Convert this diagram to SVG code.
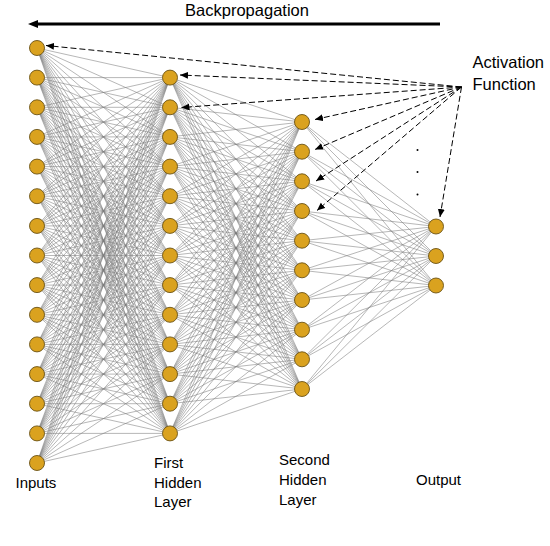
<svg xmlns="http://www.w3.org/2000/svg" width="550" height="546" viewBox="0 0 550 546">
<style>
.c{fill:none;stroke:#7a7a7a;stroke-width:0.55}
.node circle{fill:#DAA21F;stroke:#6b5215;stroke-width:0.9}
.lbl{font-family:"Liberation Sans",Arial,sans-serif;font-size:15px;fill:#000}
.big{font-size:16.5px}
.da{fill:none;stroke:#000;stroke-width:1;stroke-dasharray:6 3}
</style>
<defs>
<marker id="ah" markerUnits="userSpaceOnUse" markerWidth="9" markerHeight="8" refX="8" refY="3.5" orient="auto"><path d="M0 0L8 3.5L0 7z" fill="#000"/></marker>
<marker id="bh" markerUnits="userSpaceOnUse" markerWidth="11" markerHeight="9" refX="4" refY="4" orient="auto"><path d="M0 0L10 4L0 8z" fill="#000"/></marker>
</defs>
<rect width="550" height="546" fill="#fff"/>
<g id="connectors">
<path class="c" d="M37 48 170 77.6M37 48 170 107.3M37 48 170 136.9M37 48 170 166.6M37 48 170 196.2M37 48 170 225.9M37 48 170 255.5M37 48 170 285.1M37 48 170 314.8M37 48 170 344.4M37 48 170 374.1M37 48 170 403.7M37 48 170 433.4"/>
<path class="c" d="M37 77.6 170 77.6M37 77.6 170 107.3M37 77.6 170 136.9M37 77.6 170 166.6M37 77.6 170 196.2M37 77.6 170 225.9M37 77.6 170 255.5M37 77.6 170 285.1M37 77.6 170 314.8M37 77.6 170 344.4M37 77.6 170 374.1M37 77.6 170 403.7M37 77.6 170 433.4"/>
<path class="c" d="M37 107.3 170 77.6M37 107.3 170 107.3M37 107.3 170 136.9M37 107.3 170 166.6M37 107.3 170 196.2M37 107.3 170 225.9M37 107.3 170 255.5M37 107.3 170 285.1M37 107.3 170 314.8M37 107.3 170 344.4M37 107.3 170 374.1M37 107.3 170 403.7M37 107.3 170 433.4"/>
<path class="c" d="M37 136.9 170 77.6M37 136.9 170 107.3M37 136.9 170 136.9M37 136.9 170 166.6M37 136.9 170 196.2M37 136.9 170 225.9M37 136.9 170 255.5M37 136.9 170 285.1M37 136.9 170 314.8M37 136.9 170 344.4M37 136.9 170 374.1M37 136.9 170 403.7M37 136.9 170 433.4"/>
<path class="c" d="M37 166.6 170 77.6M37 166.6 170 107.3M37 166.6 170 136.9M37 166.6 170 166.6M37 166.6 170 196.2M37 166.6 170 225.9M37 166.6 170 255.5M37 166.6 170 285.1M37 166.6 170 314.8M37 166.6 170 344.4M37 166.6 170 374.1M37 166.6 170 403.7M37 166.6 170 433.4"/>
<path class="c" d="M37 196.2 170 77.6M37 196.2 170 107.3M37 196.2 170 136.9M37 196.2 170 166.6M37 196.2 170 196.2M37 196.2 170 225.9M37 196.2 170 255.5M37 196.2 170 285.1M37 196.2 170 314.8M37 196.2 170 344.4M37 196.2 170 374.1M37 196.2 170 403.7M37 196.2 170 433.4"/>
<path class="c" d="M37 225.9 170 77.6M37 225.9 170 107.3M37 225.9 170 136.9M37 225.9 170 166.6M37 225.9 170 196.2M37 225.9 170 225.9M37 225.9 170 255.5M37 225.9 170 285.1M37 225.9 170 314.8M37 225.9 170 344.4M37 225.9 170 374.1M37 225.9 170 403.7M37 225.9 170 433.4"/>
<path class="c" d="M37 255.5 170 77.6M37 255.5 170 107.3M37 255.5 170 136.9M37 255.5 170 166.6M37 255.5 170 196.2M37 255.5 170 225.9M37 255.5 170 255.5M37 255.5 170 285.1M37 255.5 170 314.8M37 255.5 170 344.4M37 255.5 170 374.1M37 255.5 170 403.7M37 255.5 170 433.4"/>
<path class="c" d="M37 285.1 170 77.6M37 285.1 170 107.3M37 285.1 170 136.9M37 285.1 170 166.6M37 285.1 170 196.2M37 285.1 170 225.9M37 285.1 170 255.5M37 285.1 170 285.1M37 285.1 170 314.8M37 285.1 170 344.4M37 285.1 170 374.1M37 285.1 170 403.7M37 285.1 170 433.4"/>
<path class="c" d="M37 314.8 170 77.6M37 314.8 170 107.3M37 314.8 170 136.9M37 314.8 170 166.6M37 314.8 170 196.2M37 314.8 170 225.9M37 314.8 170 255.5M37 314.8 170 285.1M37 314.8 170 314.8M37 314.8 170 344.4M37 314.8 170 374.1M37 314.8 170 403.7M37 314.8 170 433.4"/>
<path class="c" d="M37 344.4 170 77.6M37 344.4 170 107.3M37 344.4 170 136.9M37 344.4 170 166.6M37 344.4 170 196.2M37 344.4 170 225.9M37 344.4 170 255.5M37 344.4 170 285.1M37 344.4 170 314.8M37 344.4 170 344.4M37 344.4 170 374.1M37 344.4 170 403.7M37 344.4 170 433.4"/>
<path class="c" d="M37 374.1 170 77.6M37 374.1 170 107.3M37 374.1 170 136.9M37 374.1 170 166.6M37 374.1 170 196.2M37 374.1 170 225.9M37 374.1 170 255.5M37 374.1 170 285.1M37 374.1 170 314.8M37 374.1 170 344.4M37 374.1 170 374.1M37 374.1 170 403.7M37 374.1 170 433.4"/>
<path class="c" d="M37 403.7 170 77.6M37 403.7 170 107.3M37 403.7 170 136.9M37 403.7 170 166.6M37 403.7 170 196.2M37 403.7 170 225.9M37 403.7 170 255.5M37 403.7 170 285.1M37 403.7 170 314.8M37 403.7 170 344.4M37 403.7 170 374.1M37 403.7 170 403.7M37 403.7 170 433.4"/>
<path class="c" d="M37 433.4 170 77.6M37 433.4 170 107.3M37 433.4 170 136.9M37 433.4 170 166.6M37 433.4 170 196.2M37 433.4 170 225.9M37 433.4 170 255.5M37 433.4 170 285.1M37 433.4 170 314.8M37 433.4 170 344.4M37 433.4 170 374.1M37 433.4 170 403.7M37 433.4 170 433.4"/>
<path class="c" d="M37 463 170 77.6M37 463 170 107.3M37 463 170 136.9M37 463 170 166.6M37 463 170 196.2M37 463 170 225.9M37 463 170 255.5M37 463 170 285.1M37 463 170 314.8M37 463 170 344.4M37 463 170 374.1M37 463 170 403.7M37 463 170 433.4"/>

<path class="c" d="M170 77.6 302 122M170 77.6 302 151.7M170 77.6 302 181.3M170 77.6 302 211M170 77.6 302 240.7M170 77.6 302 270.3M170 77.6 302 300M170 77.6 302 329.7M170 77.6 302 359.3M170 77.6 302 389"/>
<path class="c" d="M170 107.3 302 122M170 107.3 302 151.7M170 107.3 302 181.3M170 107.3 302 211M170 107.3 302 240.7M170 107.3 302 270.3M170 107.3 302 300M170 107.3 302 329.7M170 107.3 302 359.3M170 107.3 302 389"/>
<path class="c" d="M170 136.9 302 122M170 136.9 302 151.7M170 136.9 302 181.3M170 136.9 302 211M170 136.9 302 240.7M170 136.9 302 270.3M170 136.9 302 300M170 136.9 302 329.7M170 136.9 302 359.3M170 136.9 302 389"/>
<path class="c" d="M170 166.6 302 122M170 166.6 302 151.7M170 166.6 302 181.3M170 166.6 302 211M170 166.6 302 240.7M170 166.6 302 270.3M170 166.6 302 300M170 166.6 302 329.7M170 166.6 302 359.3M170 166.6 302 389"/>
<path class="c" d="M170 196.2 302 122M170 196.2 302 151.7M170 196.2 302 181.3M170 196.2 302 211M170 196.2 302 240.7M170 196.2 302 270.3M170 196.2 302 300M170 196.2 302 329.7M170 196.2 302 359.3M170 196.2 302 389"/>
<path class="c" d="M170 225.9 302 122M170 225.9 302 151.7M170 225.9 302 181.3M170 225.9 302 211M170 225.9 302 240.7M170 225.9 302 270.3M170 225.9 302 300M170 225.9 302 329.7M170 225.9 302 359.3M170 225.9 302 389"/>
<path class="c" d="M170 255.5 302 122M170 255.5 302 151.7M170 255.5 302 181.3M170 255.5 302 211M170 255.5 302 240.7M170 255.5 302 270.3M170 255.5 302 300M170 255.5 302 329.7M170 255.5 302 359.3M170 255.5 302 389"/>
<path class="c" d="M170 285.1 302 122M170 285.1 302 151.7M170 285.1 302 181.3M170 285.1 302 211M170 285.1 302 240.7M170 285.1 302 270.3M170 285.1 302 300M170 285.1 302 329.7M170 285.1 302 359.3M170 285.1 302 389"/>
<path class="c" d="M170 314.8 302 122M170 314.8 302 151.7M170 314.8 302 181.3M170 314.8 302 211M170 314.8 302 240.7M170 314.8 302 270.3M170 314.8 302 300M170 314.8 302 329.7M170 314.8 302 359.3M170 314.8 302 389"/>
<path class="c" d="M170 344.4 302 122M170 344.4 302 151.7M170 344.4 302 181.3M170 344.4 302 211M170 344.4 302 240.7M170 344.4 302 270.3M170 344.4 302 300M170 344.4 302 329.7M170 344.4 302 359.3M170 344.4 302 389"/>
<path class="c" d="M170 374.1 302 122M170 374.1 302 151.7M170 374.1 302 181.3M170 374.1 302 211M170 374.1 302 240.7M170 374.1 302 270.3M170 374.1 302 300M170 374.1 302 329.7M170 374.1 302 359.3M170 374.1 302 389"/>
<path class="c" d="M170 403.7 302 122M170 403.7 302 151.7M170 403.7 302 181.3M170 403.7 302 211M170 403.7 302 240.7M170 403.7 302 270.3M170 403.7 302 300M170 403.7 302 329.7M170 403.7 302 359.3M170 403.7 302 389"/>
<path class="c" d="M170 433.4 302 122M170 433.4 302 151.7M170 433.4 302 181.3M170 433.4 302 211M170 433.4 302 240.7M170 433.4 302 270.3M170 433.4 302 300M170 433.4 302 329.7M170 433.4 302 359.3M170 433.4 302 389"/>

<path class="c" d="M302 122 436 226.5M302 122 436 256M302 122 436 285.5M302 151.7 436 226.5M302 151.7 436 256M302 151.7 436 285.5M302 181.3 436 226.5M302 181.3 436 256M302 181.3 436 285.5M302 211 436 226.5M302 211 436 256M302 211 436 285.5M302 240.7 436 226.5M302 240.7 436 256M302 240.7 436 285.5"/>
<path class="c" d="M302 270.3 436 226.5M302 270.3 436 256M302 270.3 436 285.5M302 300 436 226.5M302 300 436 256M302 300 436 285.5M302 329.7 436 226.5M302 329.7 436 256M302 329.7 436 285.5M302 359.3 436 226.5M302 359.3 436 256M302 359.3 436 285.5M302 389 436 226.5M302 389 436 256M302 389 436 285.5"/>

<line x1="440" y1="24" x2="34" y2="24" stroke="#000" stroke-width="3" marker-end="url(#bh)"/>
<line class="da" x1="461.5" y1="87" x2="46" y2="45.5" marker-end="url(#ah)"/>
<line class="da" x1="461.5" y1="87" x2="180" y2="75" marker-end="url(#ah)"/>
<line class="da" x1="461.5" y1="87" x2="181.5" y2="107.5" marker-end="url(#ah)"/>
<line class="da" x1="461.5" y1="87" x2="315" y2="119.5" marker-end="url(#ah)"/>
<line class="da" x1="461.5" y1="87" x2="315" y2="149.5" marker-end="url(#ah)"/>
<line class="da" x1="461.5" y1="87" x2="316" y2="181" marker-end="url(#ah)"/>
<line class="da" x1="461.5" y1="87" x2="317" y2="210.5" marker-end="url(#ah)"/>
<line class="da" x1="461.5" y1="87" x2="440" y2="217" marker-end="url(#ah)"/>
</g>

<g id="inputs">
<g id="in1" class="node"><circle cx="37" cy="48" r="7.5"/></g>
<g id="in2" class="node"><circle cx="37" cy="77.6" r="7.5"/></g>
<g id="in3" class="node"><circle cx="37" cy="107.3" r="7.5"/></g>
<g id="in4" class="node"><circle cx="37" cy="136.9" r="7.5"/></g>
<g id="in5" class="node"><circle cx="37" cy="166.6" r="7.5"/></g>
<g id="in6" class="node"><circle cx="37" cy="196.2" r="7.5"/></g>
<g id="in7" class="node"><circle cx="37" cy="225.9" r="7.5"/></g>
<g id="in8" class="node"><circle cx="37" cy="255.5" r="7.5"/></g>
<g id="in9" class="node"><circle cx="37" cy="285.1" r="7.5"/></g>
<g id="in10" class="node"><circle cx="37" cy="314.8" r="7.5"/></g>
<g id="in11" class="node"><circle cx="37" cy="344.4" r="7.5"/></g>
<g id="in12" class="node"><circle cx="37" cy="374.1" r="7.5"/></g>
<g id="in13" class="node"><circle cx="37" cy="403.7" r="7.5"/></g>
<g id="in14" class="node"><circle cx="37" cy="433.4" r="7.5"/></g>
<g id="in15" class="node"><circle cx="37" cy="463" r="7.5"/></g>
<text class="lbl" x="15.5" y="487.5">Inputs</text>
</g>

<g id="hidden1">
<g id="h1n1" class="node"><circle cx="170" cy="77.6" r="7.5"/></g>
<g id="h1n2" class="node"><circle cx="170" cy="107.3" r="7.5"/></g>
<g id="h1n3" class="node"><circle cx="170" cy="136.9" r="7.5"/></g>
<g id="h1n4" class="node"><circle cx="170" cy="166.6" r="7.5"/></g>
<g id="h1n5" class="node"><circle cx="170" cy="196.2" r="7.5"/></g>
<g id="h1n6" class="node"><circle cx="170" cy="225.9" r="7.5"/></g>
<g id="h1n7" class="node"><circle cx="170" cy="255.5" r="7.5"/></g>
<g id="h1n8" class="node"><circle cx="170" cy="285.1" r="7.5"/></g>
<g id="h1n9" class="node"><circle cx="170" cy="314.8" r="7.5"/></g>
<g id="h1n10" class="node"><circle cx="170" cy="344.4" r="7.5"/></g>
<g id="h1n11" class="node"><circle cx="170" cy="374.1" r="7.5"/></g>
<g id="h1n12" class="node"><circle cx="170" cy="403.7" r="7.5"/></g>
<g id="h1n13" class="node"><circle cx="170" cy="433.4" r="7.5"/></g>
<text class="lbl" x="154" y="467.5">First</text>
<text class="lbl" x="154" y="487.5">Hidden</text>
<text class="lbl" x="154" y="507">Layer</text>
</g>

<g id="hidden2">
<g id="h2n1" class="node"><circle cx="302" cy="122" r="7.5"/></g>
<g id="h2n2" class="node"><circle cx="302" cy="151.7" r="7.5"/></g>
<g id="h2n3" class="node"><circle cx="302" cy="181.3" r="7.5"/></g>
<g id="h2n4" class="node"><circle cx="302" cy="211" r="7.5"/></g>
<g id="h2n5" class="node"><circle cx="302" cy="240.7" r="7.5"/></g>
<g id="h2n6" class="node"><circle cx="302" cy="270.3" r="7.5"/></g>
<g id="h2n7" class="node"><circle cx="302" cy="300" r="7.5"/></g>
<g id="h2n8" class="node"><circle cx="302" cy="329.7" r="7.5"/></g>
<g id="h2n9" class="node"><circle cx="302" cy="359.3" r="7.5"/></g>
<g id="h2n10" class="node"><circle cx="302" cy="389" r="7.5"/></g>
<text class="lbl" x="279" y="465">Second</text>
<text class="lbl" x="279" y="485">Hidden</text>
<text class="lbl" x="279" y="504.5">Layer</text>
</g>

<g id="output">
<g id="on1" class="node"><circle cx="436" cy="226.5" r="7.5"/></g>
<g id="on2" class="node"><circle cx="436" cy="256" r="7.5"/></g>
<g id="on3" class="node"><circle cx="436" cy="285.5" r="7.5"/></g>
<text class="lbl" x="416" y="484.5">Output</text>
</g>

<g id="dots" fill="#000">
<circle cx="417.5" cy="150" r="1"/>
<circle cx="417.5" cy="172" r="1"/>
<circle cx="417.5" cy="194.5" r="1"/>
</g>

<g id="activation">
<text class="lbl big" x="472.5" y="67.5">Activation</text>
<text class="lbl big" x="472.5" y="89.5">Function</text>
</g>
<g id="backprop">
<text class="lbl big" x="247" y="15.5" text-anchor="middle">Backpropagation</text>
</g>
</svg>
